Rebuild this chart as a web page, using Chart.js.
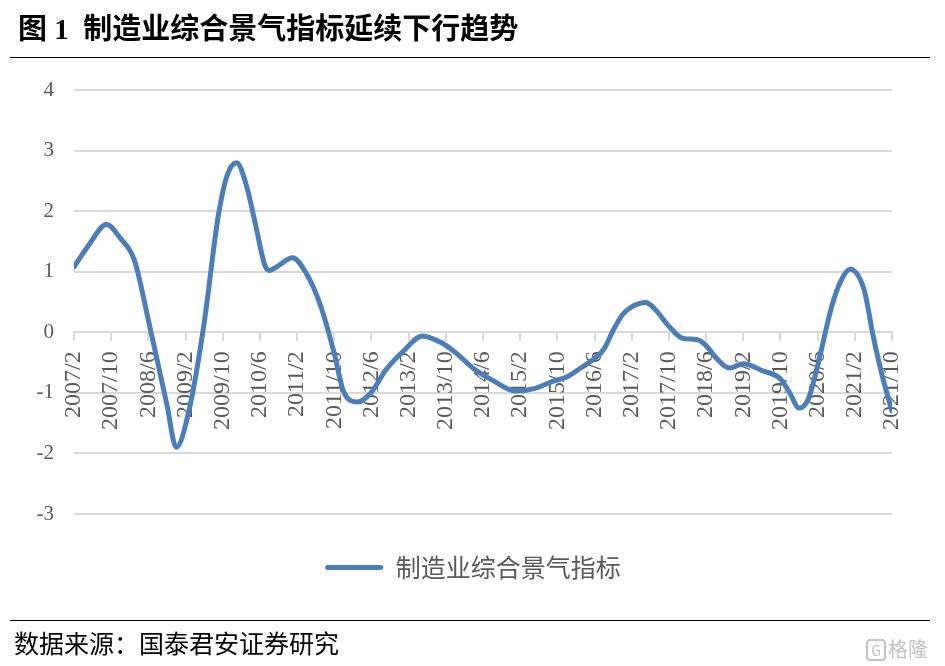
<!DOCTYPE html>
<html>
<head>
<meta charset="utf-8">
<script src="https://cdn.jsdelivr.net/npm/chart.js@4.4.0/dist/chart.umd.min.js"></script>
<style>
  body { margin: 0; background: #fff; }
  #page { position: relative; width: 945px; height: 666px; overflow: hidden; background: #fff; }
  #title { position: absolute; left: 18px; top: 5px; font: bold 29px "Liberation Serif", "Noto Sans CJK SC"; color: #000; white-space: pre; }
  .rule { position: absolute; left: 10px; width: 920px; height: 1px; background: #000; }
  #source { position: absolute; left: 14px; top: 624px; font: 25px "Liberation Serif", "Noto Sans CJK SC"; color: #000; }
  #mark { position: absolute; left: 866px; top: 634px; font: 20px "Noto Sans CJK SC"; color: #c4c4c4; }
  #mark span { display: inline-block; width: 16px; height: 18px; border: 2px solid #c4c4c4; border-radius: 4px; font-size: 14px; line-height: 18px; text-align: center; margin-right: 2px; vertical-align: 1px; }
  #chartBox { position: absolute; left: 0; top: 0; width: 945px; height: 666px; }
</style>
</head>
<body>
<div id="page">
  <div id="chartBox"><canvas id="c"></canvas></div>
  <div id="title">图 1  制造业综合景气指标延续下行趋势</div>
  <div class="rule" style="top:57px"></div>
  <div class="rule" style="top:620px"></div>
  <div id="source">数据来源：国泰君安证券研究</div>
  <div id="mark"><span>G</span>格隆汇</div>
</div>
<script>
// data points (month, value)
const months = ["2007/2", "2007/5", "2007/9", "2007/12", "2008/3", "2008/6", "2008/10", "2008/12",
  "2009/3", "2009/6", "2009/9", "2009/11", "2010/1", "2010/3", "2010/5", "2010/7", "2010/8", "2010/10",
  "2011/1", "2011/4", "2011/7", "2011/10", "2011/12", "2012/3", "2012/6", "2012/9", "2013/1", "2013/5",
  "2013/9", "2013/12", "2014/4", "2014/8", "2015/1", "2015/5", "2015/9", "2015/12", "2016/3", "2016/6",
  "2016/8", "2016/10", "2016/12", "2017/2", "2017/5", "2017/7", "2017/10", "2018/1", "2018/4", "2018/6",
  "2018/8", "2018/11", "2019/2", "2019/6", "2019/10", "2019/12", "2020/2", "2020/4", "2020/6", "2020/9",
  "2020/11", "2021/1", "2021/4", "2021/6", "2021/8", "2021/10"];
const values = [1.08, 1.42, 1.78, 1.55, 1.19, 0.2, -1.2, -1.9,
  -1.2, 0.15, 1.9, 2.6, 2.8, 2.45, 1.8, 1.12, 1.02, 1.1,
  1.23, 0.97, 0.45, -0.35, -0.98, -1.15, -0.99, -0.63, -0.3, -0.06,
  -0.17, -0.33, -0.6, -0.79, -0.97, -0.93, -0.81, -0.74, -0.59, -0.43,
  -0.28, 0.03, 0.29, 0.42, 0.49, 0.38, 0.1, -0.1, -0.12, -0.22,
  -0.41, -0.59, -0.52, -0.63, -0.77, -1.0, -1.25, -1.1, -0.55, 0.42,
  0.85, 1.04, 0.7, -0.08, -0.75, -1.3];
const tickLabels = ["2007/2", "2007/10", "2008/6", "2009/2", "2009/10", "2010/6", "2011/2", "2011/10",
  "2012/6", "2013/2", "2013/10", "2014/6", "2015/2", "2015/10", "2016/6", "2017/2", "2017/10",
  "2018/6", "2019/2", "2019/10", "2020/6", "2021/2", "2021/10"];
const seriesName = "制造业综合景气指标";

const blue = "#4a7ebb";
const grey = "#595959";

// month label -> months since 2007/2
function monthIndex(s) {
  const [y, m] = s.split("/").map(Number);
  return (y - 2007) * 12 + (m - 2);
}

// legend sits a bit right of the plot centre in the original
const legendShift = {
  id: "legendShift",
  afterLayout(chart) {
    chart.legend.left += 27;
    chart.legend.right += 27;
  },
};

Chart.defaults.font.family = '"Liberation Serif", "Noto Sans CJK SC"';

new Chart(document.getElementById("c"), {
  type: "line",
  plugins: [legendShift],
  data: {
    datasets: [{
      label: seriesName,
      data: months.map((m, i) => ({ x: monthIndex(m), y: values[i] })),
      borderColor: blue,
      backgroundColor: blue,
      borderWidth: 5,
      borderCapStyle: "round",
      borderJoinStyle: "round",
      cubicInterpolationMode: "monotone",
      pointRadius: 0,
    }],
  },
  options: {
    responsive: true,
    maintainAspectRatio: false,
    animation: false,
    layout: { padding: { top: 90, right: 53, bottom: 76, left: 0 } },
    plugins: {
      tooltip: { enabled: false },
      legend: {
        position: "bottom",
        labels: {
          color: grey,
          font: { size: 25, family: '"Noto Sans CJK SC"' },
          boxWidth: 58,
          boxHeight: 5,
          padding: 41,
          useBorderRadius: true,
          borderRadius: 2.5,
          generateLabels: (chart) =>
            Chart.defaults.plugins.legend.labels.generateLabels(chart).map((l) => ({ ...l, lineWidth: 0, fillStyle: blue })),
        },
      },
    },
    scales: {
      x: {
        type: "linear",
        min: 0,
        max: monthIndex(tickLabels[tickLabels.length - 1]),
        position: { y: 0 },
        afterBuildTicks: (s) => { s.ticks = tickLabels.map((t) => ({ value: monthIndex(t) })); },
        ticks: {
          autoSkip: false,
          minRotation: 90,
          maxRotation: 90,
          padding: 11,
          color: grey,
          font: { size: 24 },
          callback: (v, i) => tickLabels[i],
        },
        grid: { drawOnChartArea: false, drawTicks: true, tickLength: 8, color: "#d9d9d9", lineWidth: 2 },
        border: { display: true, color: "#d9d9d9", width: 2 },
      },
      y: {
        min: -3,
        max: 4,
        ticks: { stepSize: 1, color: grey, font: { size: 21 }, padding: 20 },
        grid: { color: "#d9d9d9", lineWidth: 2, drawTicks: false },
        border: { display: false },
        afterFit: (s) => { s.width = 74; },
      },
    },
  },
});
</script>
</body>
</html>
